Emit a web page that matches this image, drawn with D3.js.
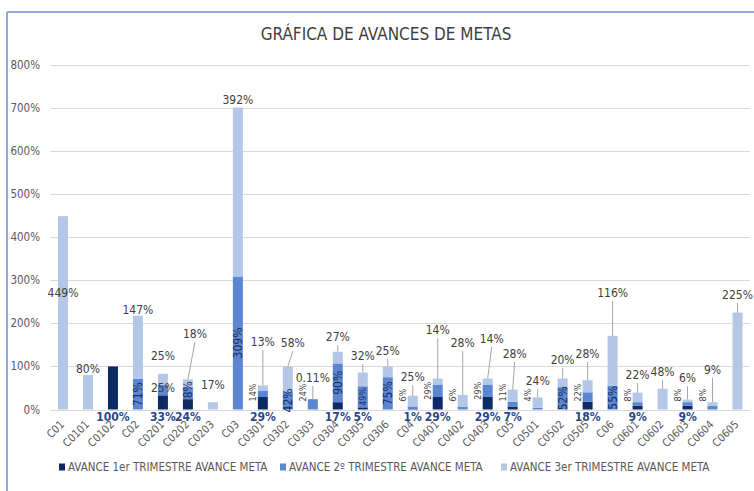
<!DOCTYPE html>
<html>
<head>
  <meta charset="utf-8">
  <style>
    body { margin: 0; background: #fff; }
    svg text { font-family: "Liberation Sans Narrow", "DejaVu Sans Condensed", sans-serif; }
    .grid line { stroke: #d9d9d9; stroke-width: 1; }
    .ytick { fill: #595959; font-size: 11.5px; }
    .xtick { fill: #595959; font-size: 11px; }
    .lbl { fill: #404040; font-size: 12px; }
    .dlbl { fill: #2a4787; font-size: 12px; font-weight: bold; }
    .leader { stroke: #a6a6a6; stroke-width: 1; }
  </style>
</head>
<body>
<script src="https://cdn.jsdelivr.net/npm/d3@7"></script>
<script>
  // chart values (percent)
  const categories = ["C01", "C0101", "C0102", "C02", "C0201", "C0202", "C0203", "C03", "C0301", "C0302",
    "C0303", "C0304", "C0305", "C0306", "C04", "C0401", "C0402", "C0403", "C05", "C0501",
    "C0502", "C0505", "C06", "C0601", "C0602", "C0603", "C0604", "C0605"];
  const trim1 = [0, 0, 100, 0, 33, 24, 0, 0, 29, 0, 0, 17, 5, 0, 1, 29, 0, 29, 7, 0, 0, 18, 0, 9, 0, 9, 0, 0];
  const trim2 = [0, 0, 0, 71, 25, 28, 0, 309, 14, 42, 24, 90, 49, 75, 6, 29, 6, 29, 11, 4, 52, 22, 55, 8, 0, 8, 8, 0];
  const trim3 = [449, 80, 0, 147, 25, 18, 17, 392, 13, 58, 0.11, 27, 32, 25, 25, 14, 28, 14, 28, 24, 20, 28, 116, 22, 48, 6, 9, 225];
  const yTicks = [0, 100, 200, 300, 400, 500, 600, 700, 800];
  const seriesNames = ["AVANCE 1er TRIMESTRE AVANCE META", "AVANCE 2º TRIMESTRE AVANCE META", "AVANCE 3er TRIMESTRE AVANCE META"];

  // where Excel left the 3er trimestre labels (in axis units), and a few tweaks
  const lblAt3 = [270, 94, null, 231, 124, 175, 57, 720, 157, 154, 73, 168, 124, 136, 75, 184, 154, 164, 129, 66, 115, 129, 270, 80, 87, 73, 92, 266];
  const lblShift3 = { C0202: 7, C0302: 5, C0403: 4, C05: 2 };
  const noLeader = ["C01", "C0101", "C02", "C0201", "C0203", "C03"];
  const inside2 = ["C02", "C0202", "C03", "C0302", "C0304", "C0306", "C0502", "C06"];
  const insideSmall2 = ["C0305"];
  const flat2 = ["C0201"];

  const colors = ["#0e2a66", "#5b86d1", "#b4c7e7"];

  const W = 754, H = 491;
  const svg = d3.select("body").append("svg").attr("width", W).attr("height", H);

  // frame (partly cropped in the picture)
  svg.append("line").attr("x1", 7).attr("y1", 12).attr("x2", W).attr("y2", 12)
    .attr("stroke", "#8ea9d8").attr("stroke-width", 2);
  svg.append("line").attr("x1", 7).attr("y1", 12).attr("x2", 7).attr("y2", H)
    .attr("stroke", "#8ea9d8").attr("stroke-width", 2);

  svg.append("text").attr("x", 386).attr("y", 40).attr("text-anchor", "middle")
    .attr("fill", "#404040").style("font-size", "17px").text("GRÁFICA DE AVANCES DE METAS");

  const x = d3.scaleBand().domain(categories).range([50.5, 750]).paddingInner(0.6).paddingOuter(0.3);
  const y = d3.scaleLinear().domain([0, 800]).range([409.5, 65]);

  // gridlines
  svg.append("g").attr("class", "grid").selectAll("line").data(yTicks).enter().append("line")
    .attr("x1", 50.5).attr("x2", 750)
    .attr("y1", d => Math.round(y(d)) + 0.5).attr("y2", d => Math.round(y(d)) + 0.5);

  svg.append("g").selectAll("text").data(yTicks).enter().append("text")
    .attr("class", "ytick").attr("x", 40).attr("y", d => y(d)).attr("dy", "0.35em")
    .attr("text-anchor", "end").text(d => d + "%");

  const table = categories.map((c, i) => ({ cat: c, t1: trim1[i], t2: trim2[i], t3: trim3[i], lbl3: lblAt3[i] }));
  const stacked = d3.stack().keys(["t1", "t2", "t3"])(table);

  svg.append("g").selectAll("g").data(stacked).enter().append("g")
    .attr("fill", (d, i) => colors[i])
    .selectAll("rect").data(d => d).enter().append("rect")
    .attr("x", d => x(d.data.cat))
    .attr("width", x.bandwidth())
    .attr("y", d => y(d[1]))
    .attr("height", d => y(d[0]) - y(d[1]));

  const cx = c => x(c) + x.bandwidth() / 2;

  // x axis labels
  svg.append("g").selectAll("text").data(categories).enter().append("text")
    .attr("class", "xtick").attr("text-anchor", "end")
    .attr("transform", d => `translate(${cx(d) + 2},${425}) rotate(-45)`)
    .text(d => d);

  // 1er trimestre labels, under the axis
  svg.append("g").selectAll("text").data(table.filter(d => d.t1 > 0)).enter().append("text")
    .attr("class", "dlbl").attr("text-anchor", "middle")
    .attr("x", d => cx(d.cat)).attr("y", 421).text(d => d.t1 + "%");

  // 2º trimestre labels
  const g2 = svg.append("g");
  table.filter(d => d.t2 > 0).forEach(d => {
    const mid = (y(d.t1) + y(d.t1 + d.t2)) / 2;
    if (flat2.includes(d.cat)) {
      g2.append("text").attr("class", "lbl").attr("text-anchor", "middle")
        .attr("x", cx(d.cat)).attr("y", mid - 2).attr("dy", "0.35em").text(d.t2 + "%");
    } else if (inside2.includes(d.cat) || insideSmall2.includes(d.cat)) {
      const small = insideSmall2.includes(d.cat);
      g2.append("text").attr("text-anchor", "middle").attr("fill", "#1b2f5e")
        .style("font-size", small ? "9px" : "12px")
        .attr("transform", `translate(${cx(d.cat)},${mid}) rotate(-90)`)
        .attr("dy", "0.35em").text(d.t2 + "%");
    } else {
      const t = g2.append("text").attr("text-anchor", "middle").attr("fill", "#404040")
        .style("font-size", "9px").attr("dy", "0.35em").text(d.t2 + "%");
      const len = t.node().getComputedTextLength();
      const yy = Math.min(mid, y(0) - len / 2 - 8);
      t.attr("transform", `translate(${cx(d.cat) - 10},${yy}) rotate(-90)`);
    }
  });

  // 3er trimestre labels with leader lines
  const g3 = svg.append("g");
  table.filter(d => d.t3 > 0 && d.lbl3 != null).forEach(d => {
    const lx = cx(d.cat) + (lblShift3[d.cat] || 0);
    const ly = y(d.lbl3);
    const top = y(d.t1 + d.t2 + d.t3);
    if (!noLeader.includes(d.cat) && top - (ly + 8) > 2) {
      g3.append("line").attr("class", "leader")
        .attr("x1", lx).attr("y1", ly + 8).attr("x2", cx(d.cat)).attr("y2", top);
    }
    g3.append("text").attr("class", "lbl").attr("text-anchor", "middle")
      .attr("x", lx).attr("y", ly).attr("dy", "0.35em").text(d.t3 + "%");
  });

  // legend
  const legX = [59, 280, 501];
  const leg = svg.append("g").selectAll("g").data(seriesNames).enter().append("g")
    .attr("transform", (d, i) => `translate(${legX[i]},467)`);
  leg.append("rect").attr("x", 0).attr("y", -3.5).attr("width", 6).attr("height", 7)
    .attr("fill", (d, i) => colors[i]);
  leg.append("text").attr("x", 9).attr("y", 0).attr("dy", "0.35em")
    .attr("fill", "#595959").style("font-size", "11.5px").text(d => d);
</script>
</body>
</html>
